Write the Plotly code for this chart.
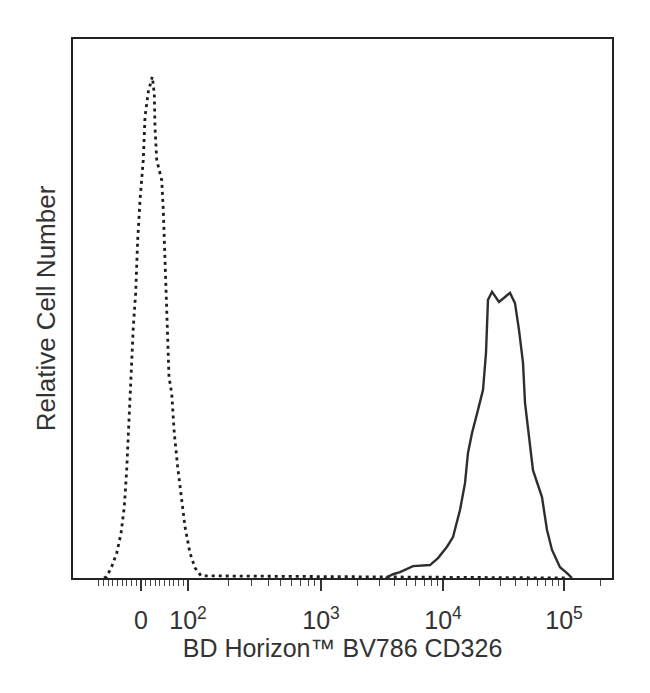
import numpy as np
import plotly.graph_objects as go

# Display channel units (0-1000 across the plot), relative counts 0-100
iso_x = [57.5, 62.5, 71.8, 81.1, 89.1, 95.2, 99.6, 102.6, 105.8, 108.9, 111.9, 116.3,
         120.0, 124.3, 130.4, 133.6, 139.7, 147.1, 150.8, 152.1, 155.3, 164.6, 167.5,
         170.7, 173.8, 178.1, 183.1, 187.9, 194.2, 200.4, 207.8, 217.1, 226.3, 237.5, 913]
iso_y = [0, 0.24, 2.1, 4.6, 8.3, 13.2, 20.0, 26.9, 33.0, 40.4, 46.6, 52.9,
         62.7, 70.1, 77.6, 85.6, 90.2, 93.0, 89.9, 83.7, 77.6, 73.8, 68.3,
         59.0, 49.7, 37.3, 34.3, 26.9, 20.6, 15.1, 9.5, 4.6, 1.9, 0.4, 0]

cd326_x = [580, 593.7, 606.7, 630.8, 662.3, 677.2, 693.9, 705.0, 718.0, 727.3, 732.8, 740.3,
           751.4, 760.7, 766.2, 768.1, 769.9, 777.4, 790.4, 810.8, 820.0, 827.5, 834.9,
           838.6, 847.9, 853.4, 870.1, 879.4, 888.7, 903.5, 916.5, 925.8]
cd326_y = [0, 0.7, 1.1, 2.2, 2.4, 3.7, 5.8, 7.6, 12.6, 17.6, 23.2, 26.9,
           31.2, 34.9, 41.7, 47.5, 51.6, 53.1, 51.2, 52.9, 51.0, 46.0, 39.9,
           32.5, 25.0, 20.0, 15.0, 8.9, 5.2, 2.0, 0.9, 0]

# Axis scale: channel positions of the labelled decades
major_vals = [0, 1e2, 1e3, 1e4, 1e5]
major_chan = [126.2, 213.4, 460.1, 686.5, 911.0]
major_text = ["0", "10<sup>2</sup>", "10<sup>3</sup>", "10<sup>4</sup>", "10<sup>5</sup>"]


def to_chan(v):
    v = np.asarray(v, dtype=float)
    lin_slope = (major_chan[1] - major_chan[0]) / 100.0
    logs = np.log10(np.maximum(np.abs(v), 1e-9))
    pos = np.interp(logs, [2, 3, 4, 5], major_chan[1:])
    pos = np.where(logs > 5, major_chan[4] + (logs - 5) * (major_chan[4] - major_chan[3]), pos)
    out = np.where(np.abs(v) < 100, major_chan[0] + v * lin_slope, pos)
    return out


minor_vals = [-k * 10 for k in range(1, 10)] + [k * 10 for k in range(1, 10)]
for d in (1e2, 1e3, 1e4, 1e5):
    minor_vals += [m * d for m in range(2, 10)]
minor_chan = [float(c) for c in to_chan(minor_vals) if 0 < c < 1000]

fig = go.Figure()
fig.add_trace(go.Scatter(x=iso_x, y=iso_y, mode="lines",
                         line=dict(color="#1e1e1e", width=2.8, dash="3px,4px"),
                         showlegend=False))
fig.add_trace(go.Scatter(x=cd326_x, y=cd326_y, mode="lines",
                         line=dict(color="#2e2e2e", width=2.4),
                         showlegend=False))

font_family = "Liberation Sans, Arial, Helvetica, sans-serif"
fig.update_layout(
    width=642, height=685,
    margin=dict(l=65, r=38, t=31, b=115),
    paper_bgcolor="white", plot_bgcolor="white",
    font=dict(family=font_family, size=25, color="#333333"),
    xaxis=dict(
        range=[0, 1000], showgrid=False, zeroline=False,
        showline=True, linecolor="#222222", linewidth=2.2, mirror=True,
        tickmode="array", tickvals=major_chan, ticktext=major_text,
        ticks="outside", ticklen=11, tickwidth=1.6, tickcolor="#333333",
        tickfont=dict(size=25, color="#333333"),
        ticklabelstandoff=8,
        minor=dict(tickmode="array", tickvals=minor_chan, ticks="outside",
                   ticklen=6, tickwidth=1.3, tickcolor="#444444", showgrid=False),
        title=dict(text="BD Horizon™ BV786 CD326", font=dict(size=25, color="#333333"),
                   standoff=4),
    ),
    yaxis=dict(
        range=[0, 100], showgrid=False, zeroline=False,
        showline=True, linecolor="#222222", linewidth=2.2, mirror=True,
        showticklabels=False, ticks="",
        title=dict(text="Relative Cell Number", font=dict(size=26, color="#333333"),
                   standoff=8),
    ),
)

fig.write_html("out.html")
